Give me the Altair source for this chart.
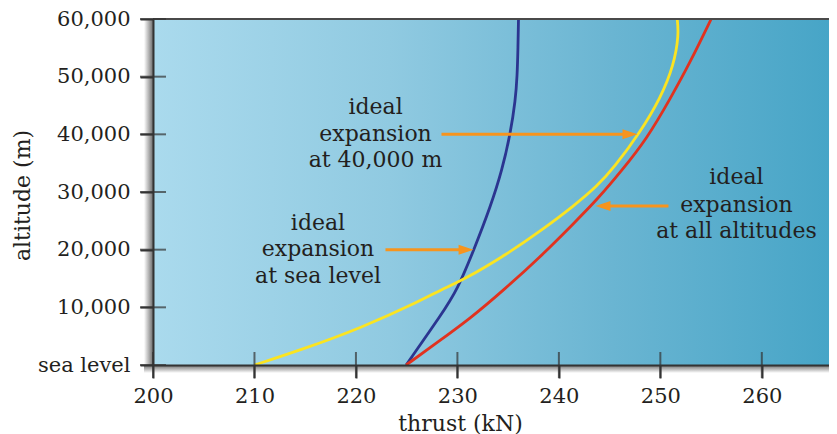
import altair as alt
import pandas as pd

# ---- data: thrust (kN) vs altitude (m) ----
alt40k_thrust = [224.95, 228.53, 229.98, 231.62, 233.26, 234.41, 235.23, 235.72, 235.89, 235.97, 236.02]
alt40k_alt = [0, 9017, 13006, 19942, 27451, 33815, 40231, 45954, 50116, 55000, 60000]

sea_thrust = [210.0, 214.54, 220.45, 226.53, 228.33, 230.60, 234.91, 238.19, 241.47, 243.78, 245.41,
              248.04, 250.01, 251.33, 251.82, 251.66]
sea_alt = [0, 2601, 6364, 11272, 13006, 14740, 19249, 23237, 27572, 31040, 34162,
           40456, 46248, 52023, 57225, 60000]

all_thrust = [224.95, 228.01, 231.29, 234.57, 238.19, 241.47, 243.78, 246.24, 248.70, 251.00, 252.97, 255.01]
all_alt = [0, 3902, 8098, 13006, 18780, 24572, 28699, 33815, 39312, 46248, 52594, 60000]

x_ticks = [200, 210, 220, 230, 240, 250, 260]
y_ticks = [0, 10000, 20000, 30000, 40000, 50000, 60000]

ann_text = ["ideal", "expansion", "at 40,000 m",
            "ideal", "expansion", "at sea level",
            "ideal", "expansion", "at all altitudes"]
ann_thrust = [221.93, 221.93, 221.93, 216.26, 216.26, 216.26, 257.50, 257.50, 257.50]
ann_alt = [43525, 38844, 34335, 23462, 18867, 14271, 31387, 26618, 21971]

arrow_start = [228.43, 222.91, 250.80]
arrow_tip = [247.75, 231.59, 243.61]
arrow_alt = [40000, 20000, 27572]

# ---- layout / style ----
W, H = 676, 346
FONT = "DejaVu Serif"
INK = "#231f20"
AX = "#333333"

xscale = alt.Scale(domain=[200, 200 + W / 10.147], nice=False, zero=False)
yscale = alt.Scale(domain=[0, 60000], nice=False, zero=False)

xaxis = alt.Axis(
    values=x_ticks, format="d", grid=False, zindex=1,
    labelFont=FONT, labelFontSize=21, labelColor=INK, labelPadding=7,
    labelFlush=False, labelOverlap=False,
    tickSize=13, tickWidth=2, tickColor=AX, domainColor=AX, domainWidth=2,
    title="thrust (kN)", titleFont=FONT, titleFontSize=22, titleFontWeight="normal",
    titleColor=INK, titleX=307, titleY=65, titleBaseline="alphabetic", titleAlign="center")
yaxis = alt.Axis(
    values=y_ticks, grid=False, zindex=1,
    labelExpr="datum.value == 0 ? 'sea level' : format(datum.value, ',')",
    labelFont=FONT, labelFontSize=21, labelColor=INK, labelPadding=10,
    labelFlush=False, labelOverlap=False,
    tickSize=13, tickWidth=2, tickColor=AX, domainColor=AX, domainWidth=2,
    title="altitude (m)", titleFont=FONT, titleFontSize=22, titleFontWeight="normal",
    titleColor=INK, titleX=-124, titleY=176, titleBaseline="alphabetic", titleAlign="center",
    titleAngle=270)

X = lambda f: alt.X(f, type="quantitative", scale=xscale, axis=xaxis)
Y = lambda f: alt.Y(f, type="quantitative", scale=yscale, axis=yaxis)

rows = []
for name, xs, ys in [("40k", alt40k_thrust, alt40k_alt), ("all", all_thrust, all_alt), ("sea", sea_thrust, sea_alt)]:
    for i, (a, b) in enumerate(zip(xs, ys)):
        rows.append({"series": name, "thrust": a, "alt": b, "ord": i})
lines_df = pd.DataFrame(rows)

one = pd.DataFrame({"k": [0]})

background = alt.Chart(one).mark_rect(
    color=alt.LinearGradient(
        gradient="linear",
        stops=[alt.GradientStop(color="#aadaed", offset=0),
               alt.GradientStop(color="#90cae1", offset=0.35),
               alt.GradientStop(color="#6ab5d2", offset=0.68),
               alt.GradientStop(color="#47a5c7", offset=1)],
        x1=0, x2=1, y1=0, y2=0),
).encode(x=alt.value(0), x2=alt.value(W), y=alt.value(0), y2=alt.value(H))

shadow_left = alt.Chart(one).mark_rect(
    clip=False,
    color=alt.LinearGradient(
        gradient="linear",
        stops=[alt.GradientStop(color="#ffffff", offset=0),
               alt.GradientStop(color="#6e6e6e", offset=1)],
        x1=0, x2=1, y1=0, y2=0),
).encode(x=alt.value(-9), x2=alt.value(0), y=alt.value(0), y2=alt.value(H))

shadow_bottom = alt.Chart(one).mark_rect(
    clip=False,
    color=alt.LinearGradient(
        gradient="linear",
        stops=[alt.GradientStop(color="#6e6e6e", offset=0),
               alt.GradientStop(color="#ffffff", offset=1)],
        x1=0, x2=0, y1=0, y2=1),
).encode(x=alt.value(-9), x2=alt.value(W), y=alt.value(H), y2=alt.value(H + 8))

top_border = alt.Chart(one).mark_rule(color="#4a4a4a", strokeWidth=2, clip=False).encode(
    x=alt.value(0), x2=alt.value(W), y=alt.value(0))

lines = alt.Chart(lines_df).mark_line(strokeWidth=2.8, interpolate="basis", clip=True).encode(
    x=X("thrust"),
    y=Y("alt"),
    color=alt.Color("series:N", scale=alt.Scale(domain=["40k", "all", "sea"],
                                                range=["#2b3590", "#e1321f", "#fbe421"]), legend=None),
    detail="series:N",
    order="ord:Q",
)

xt = pd.DataFrame({"thrust": x_ticks})
yt = pd.DataFrame({"alt": y_ticks})
inner_xticks = alt.Chart(xt).mark_tick(orient="vertical", size=26, thickness=2, color=AX, clip=False).encode(
    x=X("thrust"), y=alt.value(H))
inner_yticks = alt.Chart(yt).mark_tick(orient="horizontal", size=26, thickness=2, color=AX, clip=False).encode(
    y=Y("alt"), x=alt.value(0))

arr = pd.DataFrame({"thrust": arrow_start, "tip": arrow_tip, "alt": arrow_alt})
arr["end"] = [t - 1.2 if t > s else t + 1.2 for s, t in zip(arrow_start, arrow_tip)]
arr["dir"] = ["right" if t > s else "left" for s, t in zip(arrow_start, arrow_tip)]
ORANGE = "#f7941d"
arrow_lines = alt.Chart(arr).mark_rule(color=ORANGE, strokeWidth=3).encode(
    x=X("thrust"), x2="end:Q", y=Y("alt"))
heads_r = alt.Chart(arr).transform_filter("datum.dir == 'right'").mark_point(
    shape="M0,0 L-2,-0.67 L-2,0.67 Z", size=225, filled=True, color=ORANGE, opacity=1, strokeWidth=0).encode(
    x=X("tip"), y=Y("alt"))
heads_l = alt.Chart(arr).transform_filter("datum.dir == 'left'").mark_point(
    shape="M0,0 L2,-0.67 L2,0.67 Z", size=225, filled=True, color=ORANGE, opacity=1, strokeWidth=0).encode(
    x=X("tip"), y=Y("alt"))

ann = pd.DataFrame({"text": ann_text, "thrust": ann_thrust, "alt": ann_alt})
labels = alt.Chart(ann).mark_text(font=FONT, fontSize=22, color=INK, align="center", baseline="alphabetic").encode(
    x=X("thrust"), y=Y("alt"), text="text:N")

chart = alt.layer(
    background, shadow_left, shadow_bottom, lines, top_border, inner_xticks, inner_yticks,
    arrow_lines, heads_r, heads_l, labels
).properties(
    width=W, height=H,
    autosize=alt.AutoSizeParams(type="none"),
    padding={"left": 145, "top": 11, "right": 0, "bottom": 69},
    background="white",
).configure_view(stroke=None)

chart.save("out.html", embed_options={"renderer": "svg", "actions": False})
